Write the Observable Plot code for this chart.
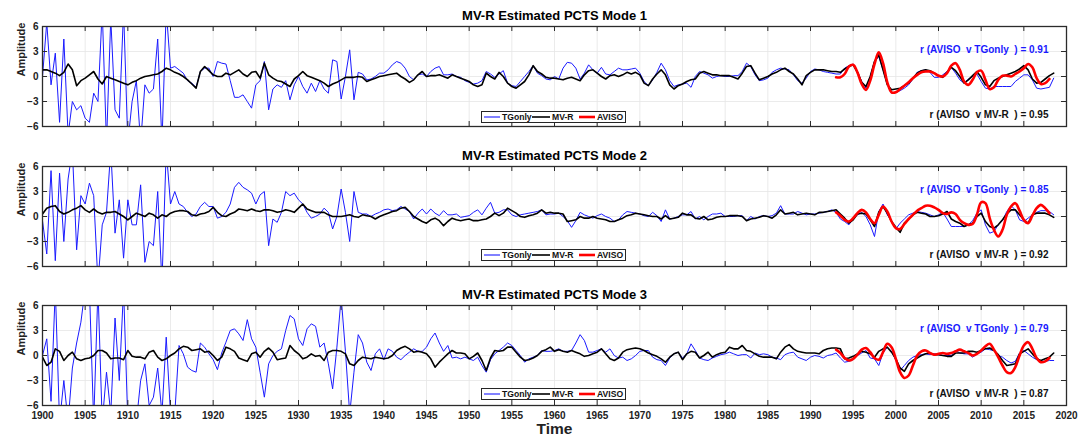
<!DOCTYPE html>
<html>
<head>
<meta charset="utf-8">
<script src="https://cdn.jsdelivr.net/npm/d3@7"></script>
<script src="https://cdn.jsdelivr.net/npm/@observablehq/plot@0.6"></script>
<style>
  body { margin: 0; background: #fff; }
  #chart { position: relative; width: 1086px; height: 439px; font-family: "Liberation Sans", Arial, sans-serif; }
  .legend { position: absolute; height: 12px; width: 145px; box-sizing: border-box; border: 1px solid #262626; background: #fff;
            font: bold 8.6px "Liberation Sans", Arial, sans-serif; color: #111; white-space: nowrap; }
  .legend svg { position: absolute; left: 0; top: 0; }
</style>
</head>
<body>
<div id="chart"></div>
<script>
// ---- time base: half-year samples from 1900, AVISO from 1993 ----
const START_YEAR = 1900;
const STEP = 0.5;
const AVISO_START = 1993;
const xTicks = d3.range(1900, 2021, 5);
const yTicks = [-6, -3, 0, 3, 6];
const yGrid = [-3, 0, 3];
const titles = ["MV-R Estimated PCTS Mode 1", "MV-R Estimated PCTS Mode 2", "MV-R Estimated PCTS Mode 3"];
const seriesNames = ["TGonly", "MV-R", "AVISO"];
const rTGonly = ["0.91", "0.85", "0.79"];
const rMVR = ["0.95", "0.92", "0.87"];

// ---- Mode 1 ----
const tgonly1 = [
  0, 6.5, -1, 2.8, -5.5, 4.5, -7, -3, -4, -3.5,
  -5, -5.5, -2, -3, 8, -8, 7, -4, -5, 8,
  -8, -3, -0.5, -8, -1, -2, -1.5, 4.5, -8, 8,
  1, 1.2, 0.8, 0.4, -0.5, -0.8, -1.3, 0.6, 1.0, 1.0,
  0, 1.8, 1.6, 1.5, -0.5, -2.5, -2.5, -2.2, -3, -3.8,
  -1, -0.5, 1.8, -4, -1.5, -1, -1.3, -0.5, -2.8, -1,
  0, -1.2, -2, -0.8, -1.8, -0.5, -1.5, -2, 2, 1.8,
  -2.7, 0, 3.2, -2.8, 0.5, 0.3, -0.4, -0.3, 0, 0.4,
  0.4, 0.8, 1.4, 1.8, 1.6, 1.0, 0, -0.4, 0.2, 0.3,
  0, 0.6, 1.0, 1.2, 0.2, 0.2, 0.3, 0, -0.1, -0.5,
  -0.7, -0.9, -0.8, -0.5, 0.6, 0.3, -0.1, 0.3, 0.7, -0.8,
  -1.1, -1.2, -0.6, 0, 0.6, 1.3, 0.4, 0.1, -0.3, -0.4,
  0, -0.3, 1.0, 1.7, 1.6, 1.0, -0.3, 0.4, 1.4, 0.8,
  0.4, 1.1, 0.3, 0.2, 0.6, 1.0, 0.8, 0.8, 0.9, 1.0,
  0.4, -0.6, -1.1, -0.4, 0.5, 1.6, 0.8, -0.5, -1.2, -1.0,
  -0.9, -0.8, -1.3, 0, 0.6, 0.4, 0.2, -0.2, 0, 0.1,
  0, 0, 0.1, 0.1, 0.6, 1.6, 1.2, 0.2, -0.5, -0.4,
  -0.2, 0.5, 0.8, 1.0, 0.9, 0.8, 0.2, -0.5, -0.8, -0.2,
  0.6, 0.9, 0.8, 0.6, 0.5, 0.4, 0.3, 0.3, 1.0, 1.3,
  1.5, 0.6, -0.6, -1.4, 0, 1.8, 2.4, 0.8, -0.9, -2.0,
  -1.9, -1.7, -1.4, -1.0, -0.3, 0.5, 0.7, 0.8, 0.5, -0.1,
  -0.1, 0.2, 0.6, 1.1, 0.4, -0.4, -0.8, -0.3, 0, 0.3,
  -0.6, -1.4, -1.5, -1.2, -1.2, -1.2, -1.2, -1.2, -0.6, -0.2,
  0.2, 0.2, -0.4, -1.4, -1.5, -1.4, -1.3, -0.2
];
const mvr1 = [
  0.8, 0.8, 0.6, 0.4, 0.1, 0.5, 1.5, 0.8, -1.1, -0.5,
  -0.2, 0.2, 0.6, -0.3, -0.9, 0, -0.2, -0.4, -0.6, -0.8,
  -1.0, -0.7, -0.5, -0.2, 0, 0.1, 0.2, 0.3, 0.6, 1.0,
  0.8, 0.5, 0.3, 0, -0.4, -0.9, -1.4, 0.6, 1.2, 0.7,
  0.2, 0, 0, 0.4, 0.2, 0.5, 0.8, 0.3, 0, 0.5,
  0.6, -0.2, 1.6, 0.2, -0.2, -0.5, -0.6, -0.9, -1.2, -0.3,
  0.1, 0.6, 0.1, -0.1, -0.3, -0.5, -0.8, -1.2, -0.9, -0.7,
  -0.4, -0.1, -0.1, -0.1, 0, -0.1, -0.6, -0.4, -0.2, 0,
  0.1, 0.2, 0.3, 0.4, 0, -0.3, -0.7, -0.4, 0.2, 0.6,
  0, 0.1, 0.1, 0.2, 0, -0.2, 0.2, 0, -0.2, -0.4,
  -0.6, -1.0, -1.2, -1.0, 0.4, 0, -0.3, 0.5, 0, -0.8,
  -1.2, -1.4, -1.0, -0.6, 0.2, 1.3, 0.6, 0.3, -0.1, -0.2,
  -0.2, -0.3, -0.4, -0.2, -0.1, -0.3, -0.5, 0.2, 0.7, 0.8,
  0.4, 0, -0.3, 0.1, 0.2, 0, 0.2, 0.5, 0.3, 0.5,
  0.2, -0.8, -1.1, -0.3, 0.3, 0.8, 0.2, -1.0, -1.5, -1.1,
  -0.9, -0.6, -0.4, -0.3, 0.4, 0.6, 0.4, 0.2, 0.2, 0.1,
  0.1, 0.1, -0.1, -0.3, 0.4, 1.2, 1.3, 0.4, -0.4, -0.2,
  0, 0.3, 0.5, 0.8, 1.0, 0.6, 0.3, -0.3, -1.0, 0.1,
  0.5, 0.8, 0.8, 0.8, 0.7, 0.6, 0.6, 0.5, 0.9, 1.2,
  1.4, 0.5, -0.7, -1.2, 0, 1.8, 2.6, 0.8, -1.0, -1.6,
  -1.5, -1.4, -1.1, -0.8, -0.2, 0.4, 0.7, 0.8, 0.7, 0.4,
  0.1, -0.1, 0.5, 1.1, 0.7, 0, -0.8, -0.4, 0.1, 0.6,
  -0.1, -1.0, -1.2, -0.5, -0.2, 0, 0.2, 0.4, 0.6, 0.9,
  1.3, 0.8, -0.3, -0.8, -0.7, -0.3, 0.1, 0.4
];
const aviso1 = [
  -0.1, -0.1, 0.3, 1.2, 1.4, 0.5, -0.9, -1.6, -0.5, 1.5,
  2.9, 1.6, -0.7, -1.9, -1.9, -1.5, -1.1, -0.7, -0.2, 0.2,
  0.5, 0.6, 0.6, 0.4, 0.1, 0, 0.4, 1.3, 1.6, 0.8,
  -0.6, -1.0, -0.4, 0.5, 0.7, -0.4, -1.5, -1.3, -0.4, 0.1,
  0.1, 0, 0.3, 0.6, 1.0, 1.5, 1.1, -0.2, -0.9, -0.8,
  -0.3
];

// ---- Mode 2 ----
const tgonly2 = [
  -0.5, -4.5, 5.5, -5.3, 5.2, -3, 4.5, 8, -4, 2.5,
  1.5, 4, 2.5, -8, -1, 0.5, 8, -2, 2, -5,
  2, -1, -1, 3.8, -5.5, -3, -3.5, 3, -8, 8,
  1.5, 3.0, 1.5, 1.2, 0.5, 0, 0.3, 1.2, 1.7, 1.2,
  1.2, -0.2, 0, 0.5, 1.5, 3.5, 4.1, 3.5, 3.2, 2.8,
  1.5, 2.6, 3.0, -3.5, -0.3, -0.7, 0.5, 3, 2.5, 2.8,
  2, 1.5, 0.5, -0.2, 0, 0.3, 1.0, 0.5, -1.5, 0,
  3.3, 0.5, -3, 3, 0.5, 0.3, 0.3, 0, 0.3, 0.5,
  0.8, 0.9, 0.7, 0.8, 1.2, 0.9, 0.6, -0.3, 0.4, 0.9,
  0.3, 0.9, 0.4, 0.1, 0.7, 0.2, 0.2, 0.3, -0.1, 0,
  0.1, 0.5, 0.8, 0.2, 1.0, 1.7, 0.4, 0.5, 0.8, 0.8,
  0.2, 0, 0.2, 0.3, 0.4, 0.5, 0.6, 0.8, 0.2, 0.3,
  0.3, 0.4, 0, -0.5, -1.3, -0.5, 0.5, 0.2, 0, -0.2,
  0.1, 0.3, 0, -0.2, -0.6, -0.4, 0.2, 0.6, 0.5, 0.4,
  0.3, 0.1, 0, 0.5, 0.1, -0.6, 0.8, -0.3, -0.2, 0,
  0.2, 0.2, 0.6, -0.3, 0, -0.4, 0, 0.3, 0.3, 0.4,
  0, 0, 0, 0.1, 0.1, -0.5, 0, -0.3, 0, 0.1,
  0, 0.1, 0.4, 1.3, 0.3, 0.3, 0.3, 0.6, 0.4, 0.2,
  0.3, 0.3, 0.4, 0.5, 0.6, 0.8, 0.5, -0.3, -0.6, -1.0,
  -0.2, 0.2, 0.5, 0, -1.0, -2.4, 0.6, 1.5, 0.2, -0.5,
  -1.5, -0.8, -0.3, 0.2, 0.4, 0.6, 0.5, 0.4, 0.2, 0,
  0.2, 0.5, -0.3, -1.2, -1.2, -1.2, -1.2, -1.0, -0.5, 0.4,
  0.8, -1.0, -2.0, -1.8, -1.0, -0.5, 0.6, 1.3, 0.8, -0.4,
  -0.6, -0.2, 0.2, 0.5, 0.7, 0.7, 0.6, 0.2
];
const mvr2 = [
  0.3, 1.0, 1.2, 1.3, 0.6, 0.3, 0.5, 0.8, 1.0, 1.3,
  0.8, 0.5, 0.9, 0.5, 0.3, 0.5, 0.5, 0.6, 0.3, 0,
  -0.4, 0, 0.4, 0.2, 0, 0.4, 0.2, -0.2, 0.2, 0,
  0.4, 0.6, 0.7, 0.7, 0.6, 0.2, 0.1, 0.3, 0.4, 0.6,
  1.1, 0.5, 0.1, 0, 0.3, 0.5, 0.9, 0.8, 0.7, 0.9,
  0.7, 0.6, 0.8, 0.8, 0.7, 0.5, 0.6, 0.8, 0.7, 0.5,
  1.0, 1.5, 0.9, 0.7, 0.5, 0.5, 0.5, 0.2, 0, 0,
  0, 0.1, 0.2, 0, -0.1, 0.2, 0.1, 0, -0.3, 0,
  0.2, 0.4, 0.6, 0.7, 1.0, 1.1, 0.6, 0, -0.3, -0.6,
  -0.8, -0.4, -0.2, -0.5, -1.1, -0.6, -0.2, -0.4, -0.5, -0.4,
  -0.3, -0.5, -0.5, -0.4, -0.3, 0, 0.4, 0.1, 0.4, 1.0,
  0.7, 0.4, 0, -0.1, 0.1, 0.2, 0.4, 0.8, 0.4, 0.5,
  0.4, 0.4, 0.3, -0.6, -0.5, -0.4, 0, -0.2, -0.2, 0,
  -0.2, -0.3, -0.4, -0.6, -0.6, -0.4, -0.2, 0.1, 0.2, 0.4,
  0.3, 0.2, 0.1, 0, 0, -0.3, 0.1, -0.3, -0.2, -0.1,
  0.4, 0.2, 0.2, -0.2, -0.3, 0, -0.4, -0.3, -0.1, 0,
  0, 0.1, 0.1, 0.1, 0, -0.5, -0.3, -0.2, -0.1, 0.1,
  0, -0.2, 0.2, 0.8, 0.3, 0.4, 0.5, 0.2, 0.3, 0.4,
  0.3, 0.2, 0.5, 0.5, 0.6, 0.7, 0.8, 0.3, -0.2, -0.8,
  -0.4, 0.3, 0.4, 0.3, -0.4, -1.2, 0.5, 1.2, 0.4, -0.6,
  -1.3, -1.9, -0.8, -0.3, 0.2, 0.5, 0.4, 0.3, 0, 0,
  0.1, 0.3, 0.6, -0.3, -0.6, -0.8, -1.2, -1.0, -0.8, 0,
  0.4, -0.6, -1.2, -1.4, -1.0, -0.4, 0.3, 0.8, 0.8, 0.2,
  -0.4, -0.8, 0.2, 0.4, 0.4, 0.4, 0.2, -0.1
];
const aviso2 = [
  0.5, 0.1, -0.4, -0.6, -0.2, 0.4, 0.8, 0.5, -0.3, -0.8,
  0.2, 1.2, 0.6, -0.6, -1.4, -1.5, -0.9, -0.3, 0.2, 0.7,
  1.0, 1.3, 1.3, 1.1, 0.8, 0.4, 0.3, 0.5, 0.3, -0.4,
  -0.8, -1.0, -0.9, 0.2, 1.7, 1.6, -0.2, -1.6, -2.4, -1.6,
  0.2, 1.2, 1.6, 0.7, -0.4, -0.8, 0.1, 1.0, 1.4, 1.0,
  0.4
];

// ---- Mode 3 ----
const tgonly3 = [
  0, 2.0, -5.5, 8, -8, -3, -8, -1.5, 1.5, 4,
  8, 8, -8, 8, -8, -2, -7, 4.5, -3, 8,
  -8, -8, -8, -3, -1, -6, -5, -1.5, -7, 2.2,
  -7, -7, 1.2, 0.2, -1.4, -1.8, -2.0, 1.5, 1.0, 0.2,
  -0.5, -1.7, 0.3, 1.6, 3.0, 3.2, 2.6, 1.8, 4.3, 2.0,
  1.0, -2, -5, -1, 0, 0.5, 0.8, 3, 4.8, 4.4,
  2.0, 1.2, 3.2, 3.8, 3.5, 1.0, 1.5, -1.0, -4, 1,
  7, 0.5, -7, -2, 2.5, 1.5, -0.8, -1.8, 0.2, 0.8,
  -0.5, 0.8, 0.5, -0.2, -0.5, 0, 0.4, 0.8, 0.5, 0.5,
  1.0, 2.0, 2.7, 1.5, 0.5, 1.2, -0.3, -0.2, -0.4, -0.2,
  -0.4, -0.6, -0.2, -1.2, -2.0, -0.5, 0.2, 0.6, 1.0, 1.5,
  1.2, 0.6, 0, -0.8, -0.4, -0.2, 0, 0.6, 0.5, 0.5,
  0.6, 0.8, 0.5, 0.5, 0.6, 1.5, 2.5, 1.8, 0.4, 0.4,
  0.6, 0.8, 0.4, 0.8, 0, -0.3, -0.2, -0.6, -0.4, 0,
  0.5, 0.6, 0.6, -0.2, -0.5, -0.6, -1.2, -0.3, 0.2, 0.4,
  -0.3, 0.2, 1.4, 0.6, -0.3, -0.5, -0.6, -0.3, -0.1, 0.1,
  0.2, 0.4, 0.2, 0, 0.1, 0.1, -0.3, 0.3, 0.1, 0.2,
  0.1, -0.2, -0.3, -0.5, 0.1, 0.3, 0.4, -0.2, -0.4, -0.6,
  -0.2, 0, -0.1, -0.3, 0, 0.1, 0.3, -0.3, -0.8, -0.7,
  -0.5, 0, 0.3, 0.6, -0.3, -0.4, -1.2, 0.3, 1.0, 0.5,
  -0.6, -1.8, -1.2, -0.6, -0.2, 0, 0.1, 0.2, 0.1, 0.2,
  0.1, 0, 0, 0, 0.6, 0.3, 0.2, 0.2, -0.2, 0.2,
  0.4, 0.8, 0.7, 0.6, 0, -0.2, -0.6, -0.9, -0.7, 0.3,
  0.6, 0.2, -0.2, -0.5, -0.7, -0.7, -0.6, -0.6
];
const mvr3 = [
  -0.2, -1.2, -0.8, 0.8, 0.5, -0.6, 0, 0.4, -0.4, -0.6,
  -0.4, -0.3, 0, 0.6, 0.6, 0.3, -0.4, -0.3, -0.3, -0.5,
  0.6, -0.1, -0.2, -0.2, -0.4, 0.4, 0.6, -0.2, -0.6, -0.4,
  0, 0.3, 0.8, 1.1, 1.0, 0.6, 0.7, 0.8, 0.4, 0.5,
  0, -0.6, -0.2, 1.0, 0.8, 0.5, -0.3, -0.5, -0.7, 0.2,
  0.4, -0.2, 0.5, 0.9, 0.4, -0.5, -0.4, -0.3, 1.2, 0.6,
  0.2, -0.4, -0.2, 0.2, -0.1, 0, -0.6, 0.4, 0.6, 0.6,
  0.5, 0.2, -1.0, -1.2, -0.6, -0.2, -0.3, -0.4, -0.2, -0.3,
  -0.4, -0.3, 0, 0.6, 0.9, 1.1, 0.8, 0.4, 0.5, 0.4,
  0.2, -0.4, -1.4, -0.8, -0.3, 0.2, 0.6, 0.3, 0.3, 0.2,
  -0.4, -0.1, 0.3, -0.6, -1.8, -0.3, 0.6, 0.5, 0.6, 1.0,
  1.0, 0.4, -0.2, -0.6, -0.5, -0.3, 0, 0.5, 0.7, 1.0,
  0.5, 0.7, 0.5, 0.4, 0.6, 0.4, 0.2, -0.1, 0, 0.2,
  0.4, 0.8, 0.2, -0.4, -0.6, -0.3, 0.4, 0.7, 0.8, 0.9,
  0.8, 0.6, 0.3, 0.1, -0.1, -0.4, -0.8, -0.2, 0.2, 0.4,
  -0.5, 0.2, 0.5, 0.4, -0.3, 0, 0.4, -0.2, 0.1, 0.3,
  0.4, 1.0, 0.8, 0.8, 1.2, 0.6, 0.5, 0.2, -0.1, -0.2,
  -0.2, -0.2, -0.4, 0.4, 1.0, 1.3, 0.8, 0.5, 0.4, 0.3,
  0.3, 0.3, 0.2, 0.6, 0.8, 0.9, 0.9, 0.8, -0.4, -0.3,
  -0.1, 0.2, 0.5, 0.4, 0.2, -0.2, 0.5, 0.8, 1.0, 0.4,
  -0.4, -1.5, -1.9, -1.0, -0.6, -0.3, 0, 0.2, 0.3, 0.1,
  0.1, 0, -0.1, -0.1, 0.3, 0.3, 0.3, 0.5, 0.5, 0.4,
  0.6, 0.8, 0.9, 0.6, 0.1, -0.6, -1.2, -1.1, -1.0, 0.2,
  0.5, 0.8, 0.2, -0.4, -0.6, -0.4, -0.2, 0.3
];
const aviso3 = [
  0.7, 0.3, -0.3, -0.6, -0.4, 0.1, 0.7, 0.9, 0.4, -0.3,
  -0.5, 0.4, 1.4, 1.0, -0.4, -2.0, -2.7, -2.4, -1.2, 0,
  0.5, 0.6, 0.3, 0.1, 0.2, 0.3, 0.2, 0.3, 0.5, 0.7,
  0.5, 0.3, 0, 0.2, 0.6, 1.1, 1.4, 0.7, -0.2, -1.2,
  -2.0, -2.1, -1.4, 0, 1.2, 1.6, 0.8, -0.3, -0.8, -0.7,
  -0.3
];

// ---- styling ----
const BLUE = "#1a1aff";
const RED = "#ff0000";
const AX = "#2b2b2b";
const GRID = "#e6e6e6";
const FONT = '"Liberation Sans", Arial, Helvetica, sans-serif';
const W = 1086, ML = 42, MR = 20, MT = 26;

const panels = [
  {title: titles[0], tg: tgonly1, mv: mvr1, av: aviso1, r1: rTGonly[0], r2: rMVR[0]},
  {title: titles[1], tg: tgonly2, mv: mvr2, av: aviso2, r1: rTGonly[1], r2: rMVR[1]},
  {title: titles[2], tg: tgonly3, mv: mvr3, av: aviso3, r1: rTGonly[2], r2: rMVR[2]}
];
const layout = [
  {top: 0, height: 140, mb: 14, legendTop: 111},
  {top: 140, height: 140, mb: 14, legendTop: 249},
  {top: 279, height: 160, mb: 34, legendTop: 388}
];

const toRows = (values, start) => values.map((v, k) => ({year: start + k * STEP, value: v}));
const chart = document.getElementById("chart");

// legend layout (pixel offsets inside the legend box)
const legendItems = seriesNames.map((name, k) => ({
  name,
  color: [BLUE, "#000", RED][k],
  width: [1.1, 1.6, 2.6][k],
  x0: [2, 50, 97][k],
  x1: [18, 68, 113][k],
  tx: [20, 70, 115][k]
}));

panels.forEach((p, i) => {
  const L = layout[i];
  const frameW = W - ML - MR;
  const frameH = L.height - MT - L.mb;
  const isBottom = i === panels.length - 1;
  const marks = [
    Plot.ruleX(xTicks, {stroke: GRID, strokeWidth: 0.8}),
    Plot.ruleY(yGrid, {stroke: GRID, strokeWidth: 0.8}),
    Plot.line(toRows(p.tg, START_YEAR), {x: "year", y: "value", stroke: BLUE, strokeWidth: 1, clip: true}),
    Plot.line(toRows(p.mv, START_YEAR), {x: "year", y: "value", stroke: "#000", strokeWidth: 1.6, clip: true}),
    Plot.line(toRows(p.av, AVISO_START), {x: "year", y: "value", stroke: RED, strokeWidth: 2.6, curve: "catmull-rom", clip: true}),
    Plot.ruleX(xTicks, {insetBottom: frameH - 5, stroke: AX}),
    Plot.ruleX(xTicks, {insetTop: frameH - 5, stroke: AX}),
    Plot.ruleY(yTicks, {insetRight: frameW - 5, stroke: AX}),
    Plot.ruleY(yTicks, {insetLeft: frameW - 5, stroke: AX}),
    Plot.frame({stroke: AX, strokeWidth: 1.3}),
    Plot.axisY({ticks: yTicks, tickSize: 0, tickPadding: 4, label: null, fontSize: 10, fontWeight: "bold", fill: "#222"}),
    Plot.text([p.title], {frameAnchor: "top", dy: -16, fontSize: 13, fontWeight: "bold", fill: "#000"}),
    Plot.text(["Amplitude"], {frameAnchor: "left", dx: -21, rotate: -90, fontSize: 11, fontWeight: "bold", fill: "#222"}),
    Plot.text([`r (AVISO  v ${seriesNames[0]}  ) = ${p.r1}`], {frameAnchor: "top-right", dx: -18, dy: 19, textAnchor: "end", fill: BLUE, fontSize: 10, fontWeight: "bold"}),
    Plot.text([`r (AVISO  v ${seriesNames[1]}  ) = ${p.r2}`], {frameAnchor: "top-right", dx: -18, dy: 84, textAnchor: "end", fill: "#111", fontSize: 10, fontWeight: "bold"})
  ];
  if (isBottom) {
    marks.push(Plot.axisX({ticks: xTicks, tickSize: 0, tickPadding: 6, tickFormat: d => String(d), label: null, fontSize: 10, fontWeight: "bold", fill: "#222"}));
    marks.push(Plot.text(["Time"], {frameAnchor: "bottom", dy: 28, fontSize: 15.5, fontWeight: "bold", fill: "#222"}));
  }
  const svg = Plot.plot({
    width: W, height: L.height,
    marginTop: MT, marginBottom: L.mb, marginLeft: ML, marginRight: MR,
    x: isBottom ? {domain: [1900, 2020]} : {domain: [1900, 2020], axis: null},
    y: {domain: [-6, 6]},
    style: {fontFamily: FONT, fontSize: "10px", background: "transparent", overflow: "visible"},
    marks
  });
  svg.style.position = "absolute";
  svg.style.left = "0px";
  svg.style.top = L.top + "px";
  chart.appendChild(svg);

  // legend box drawn as a tiny inline svg inside a bordered div
  const lg = document.createElement("div");
  lg.className = "legend";
  lg.style.left = "481px";
  lg.style.top = L.legendTop + "px";
  const ns = "http://www.w3.org/2000/svg";
  const s = document.createElementNS(ns, "svg");
  s.setAttribute("width", 143);
  s.setAttribute("height", 10);
  legendItems.forEach(it => {
    const ln = document.createElementNS(ns, "line");
    ln.setAttribute("x1", it.x0); ln.setAttribute("x2", it.x1);
    ln.setAttribute("y1", 5); ln.setAttribute("y2", 5);
    ln.setAttribute("stroke", it.color); ln.setAttribute("stroke-width", it.width);
    s.appendChild(ln);
    const tx = document.createElementNS(ns, "text");
    tx.setAttribute("x", it.tx); tx.setAttribute("y", 8.2);
    tx.setAttribute("font-family", FONT); tx.setAttribute("font-size", 8.6);
    tx.setAttribute("font-weight", "bold"); tx.setAttribute("fill", "#111");
    tx.textContent = it.name;
    s.appendChild(tx);
  });
  lg.appendChild(s);
  chart.appendChild(lg);
});
</script>
</body>
</html>
